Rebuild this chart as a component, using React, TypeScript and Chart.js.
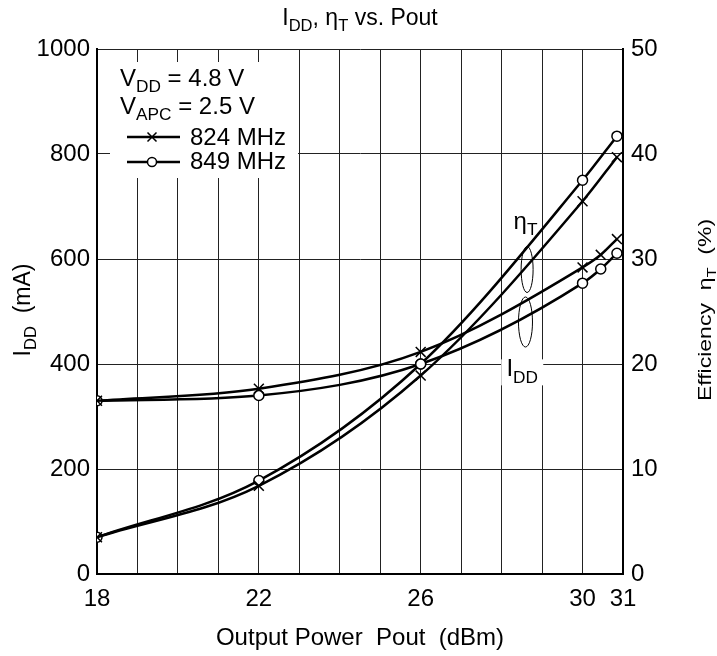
import React, { useEffect, useRef } from 'react';
import { Chart, registerables } from 'chart.js';

Chart.register(...registerables);

// ---- Data ----
const poutIdd = [18, 22, 26, 30, 30.45, 30.85];
const poutEff = [18, 22, 26, 30, 30.85];
const idd824 = [330, 353, 423, 584, 608, 638];
const idd849 = [330, 340, 400, 554, 581, 611];
const eff824 = [3.5, 8.4, 18.9, 35.5, 39.7];
const eff849 = [3.5, 8.9, 20.0, 37.5, 41.7];
const xTickLabels = [18, 22, 26, 30, 31];
const seriesNames = ['824 MHz', '849 MHz'];

const FONT = '"Liberation Sans", Arial, Helvetica, sans-serif';
const FS = 24;

type Part = { t: string; sub?: boolean };

function partsWidth(ctx: CanvasRenderingContext2D, parts: Part[], size: number) {
  let w = 0;
  for (const p of parts) {
    ctx.font = `${p.sub ? size * 0.72 : size}px ${FONT}`;
    w += ctx.measureText(p.t).width;
  }
  return w;
}

function drawRich(
  ctx: CanvasRenderingContext2D,
  parts: Part[],
  x: number,
  y: number,
  size: number,
  align: 'left' | 'center' | 'right'
) {
  const w = partsWidth(ctx, parts, size);
  let cx = align === 'left' ? x : align === 'center' ? x - w / 2 : x - w;
  ctx.textAlign = 'left';
  ctx.textBaseline = 'alphabetic';
  for (const p of parts) {
    ctx.font = `${p.sub ? size * 0.72 : size}px ${FONT}`;
    ctx.fillText(p.t, cx, p.sub ? y + size * 0.27 : y);
    cx += ctx.measureText(p.t).width;
  }
}

const pt = (x: number[], y: number[]) => x.map((v, i) => ({ x: v, y: y[i] }));

const overlayPlugin = {
  id: 'overlay',
  beforeDatasetsDraw(chart: any) {
    const { ctx, chartArea: a, scales } = chart;
    const xs = scales.x;
    const yl = scales.y;
    ctx.save();
    // legend box
    ctx.fillStyle = '#fff';
    ctx.fillRect(a.left + 13, a.top + 13, 188, 116);
    // IDD label box
    const lx = xs.getPixelForValue(28.51);
    const ly = yl.getPixelForValue(386);
    ctx.fillRect(lx - 21, ly - 12, 42, 26);
    // ellipses
    ctx.strokeStyle = '#000';
    ctx.lineWidth = 1;
    const ell = [
      { x: 28.63, y: 580, rx: 6, ry: 23 },
      { x: 28.59, y: 480, rx: 7, ry: 25 },
    ];
    for (const e of ell) {
      ctx.beginPath();
      ctx.ellipse(xs.getPixelForValue(e.x), yl.getPixelForValue(e.y), e.rx, e.ry, 0, 0, Math.PI * 2);
      ctx.stroke();
    }
    ctx.restore();
  },
  afterDraw(chart: any) {
    const { ctx, chartArea: a, scales } = chart;
    const xs = scales.x;
    const yl = scales.y;
    ctx.save();
    ctx.fillStyle = '#000';
    // title
    drawRich(
      ctx,
      [{ t: 'I' }, { t: 'DD', sub: true }, { t: ', η' }, { t: 'T', sub: true }, { t: ' vs. Pout' }],
      (a.left + a.right) / 2,
      25,
      23,
      'center'
    );
    // x title
    drawRich(ctx, [{ t: 'Output Power  Pout  (dBm)' }], (a.left + a.right) / 2, 645, FS, 'center');
    // left y title
    ctx.save();
    ctx.translate(30, 310);
    ctx.rotate(-Math.PI / 2);
    drawRich(ctx, [{ t: 'I' }, { t: 'DD', sub: true }, { t: '  (mA)' }], 0, 0, 23, 'center');
    ctx.restore();
    // right y title (slightly condensed glyph height, as in the reference)
    ctx.save();
    ctx.translate(711, 310);
    ctx.rotate(-Math.PI / 2);
    ctx.scale(1, 0.82);
    drawRich(ctx, [{ t: 'Efficiency  η' }, { t: 'T', sub: true }, { t: '  (%)' }], 0, 0, 23, 'center');
    ctx.restore();
    // legend text
    const L = a.left;
    const T = a.top;
    drawRich(ctx, [{ t: 'V' }, { t: 'DD', sub: true }, { t: ' = 4.8 V' }], L + 23, T + 37, FS, 'left');
    drawRich(ctx, [{ t: 'V' }, { t: 'APC', sub: true }, { t: ' = 2.5 V' }], L + 23, T + 65, FS, 'left');
    drawRich(ctx, [{ t: seriesNames[0] }], L + 93, T + 96, FS, 'left');
    drawRich(ctx, [{ t: seriesNames[1] }], L + 93, T + 120, FS, 'left');
    // legend samples
    ctx.strokeStyle = '#000';
    ctx.lineWidth = 2.5;
    const sy1 = T + 88;
    const sy2 = T + 113;
    ctx.beginPath();
    ctx.moveTo(L + 30, sy1);
    ctx.lineTo(L + 83, sy1);
    ctx.moveTo(L + 30, sy2);
    ctx.lineTo(L + 83, sy2);
    ctx.stroke();
    const mx = L + 55;
    ctx.lineWidth = 1.5;
    ctx.beginPath();
    ctx.moveTo(mx - 4.5, sy1 - 4.5);
    ctx.lineTo(mx + 4.5, sy1 + 4.5);
    ctx.moveTo(mx + 4.5, sy1 - 4.5);
    ctx.lineTo(mx - 4.5, sy1 + 4.5);
    ctx.stroke();
    ctx.beginPath();
    ctx.arc(mx, sy2, 4.5, 0, Math.PI * 2);
    ctx.fillStyle = '#fff';
    ctx.fill();
    ctx.stroke();
    // annotation labels
    ctx.fillStyle = '#000';
    drawRich(ctx, [{ t: 'η' }, { t: 'T', sub: true }], xs.getPixelForValue(28.59), yl.getPixelForValue(671) + 7, FS, 'center');
    drawRich(ctx, [{ t: 'I' }, { t: 'DD', sub: true }], xs.getPixelForValue(28.51), yl.getPixelForValue(386) + 5, FS, 'center');
    ctx.restore();
  },
};

export default function App() {
  const ref = useRef<HTMLCanvasElement | null>(null);
  useEffect(() => {
    document.body.style.margin = '0';
    const canvas = ref.current!;
    const lineCommon = {
      borderColor: '#000',
      borderWidth: 2.5,
      pointBorderColor: '#000',
      pointBorderWidth: 1.5,
      cubicInterpolationMode: 'monotone' as const,
      fill: false,
    };
    const crossStyle = { pointStyle: 'crossRot', pointRadius: 7, pointBackgroundColor: '#000' };
    const circStyle = { pointStyle: 'circle', pointRadius: 5, pointBackgroundColor: '#fff' };
    const tickFont = { family: FONT, size: FS };
    const chart = new Chart(canvas, {
      type: 'line',
      data: {
        datasets: [
          { label: 'IDD ' + seriesNames[0], data: pt(poutIdd, idd824), yAxisID: 'y', ...lineCommon, ...crossStyle } as any,
          { label: 'IDD ' + seriesNames[1], data: pt(poutIdd, idd849), yAxisID: 'y', ...lineCommon, ...circStyle } as any,
          { label: 'ηT ' + seriesNames[0], data: pt(poutEff, eff824), yAxisID: 'y2', ...lineCommon, ...crossStyle } as any,
          { label: 'ηT ' + seriesNames[1], data: pt(poutEff, eff849), yAxisID: 'y2', ...lineCommon, ...circStyle } as any,
        ],
      },
      options: {
        responsive: false,
        animation: false,
        layout: { padding: { top: 49, left: 0, right: 0, bottom: 0 } },
        plugins: { legend: { display: false }, tooltip: { enabled: false }, title: { display: false } },
        scales: {
          x: {
            type: 'linear',
            min: 18,
            max: 31,
            afterBuildTicks: (s: any) => {
              const t = [];
              for (let v = 18; v <= 31; v++) t.push({ value: v });
              s.ticks = t;
            },
            ticks: {
              autoSkip: false,
              maxRotation: 0,
              color: '#000',
              font: tickFont,
              padding: 11,
              callback: (v: any) => (xTickLabels.includes(Number(v)) ? String(v) : ''),
            },
            grid: { color: '#222', lineWidth: 1, drawTicks: false },
            border: { color: '#000', width: 2 },
            afterFit: (s: any) => {
              s.height = 82;
            },
          },
          y: {
            type: 'linear',
            position: 'left',
            min: 0,
            max: 1000,
            ticks: { stepSize: 200, color: '#000', font: tickFont, padding: 7, callback: (v: any) => String(v) },
            grid: { color: '#222', lineWidth: 1, drawTicks: false },
            border: { color: '#000', width: 2 },
            afterFit: (s: any) => {
              s.width = 97;
            },
          },
          y2: {
            type: 'linear',
            position: 'right',
            min: 0,
            max: 50,
            ticks: { stepSize: 10, color: '#000', font: tickFont, padding: 8, callback: (v: any) => String(v) },
            grid: { display: false, drawTicks: false },
            border: { color: '#000', width: 2 },
            afterFit: (s: any) => {
              s.width = 94;
            },
          },
        },
      },
      plugins: [overlayPlugin],
    });
    return () => chart.destroy();
  }, []);
  return (
    <div style={{ width: 717, height: 656, background: '#fff' }}>
      <canvas ref={ref} width={717} height={656} />
    </div>
  );
}
